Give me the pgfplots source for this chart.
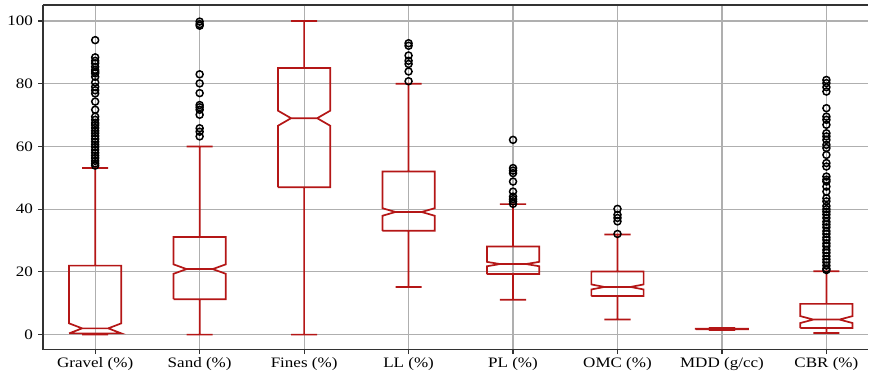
\documentclass[border=0pt]{standalone}
\usepackage{fontspec}
\setmainfont{Liberation Serif}
\usepackage{graphicx}
\usepackage{pgfplots}
\pgfplotsset{compat=1.18}
\definecolor{boxred}{RGB}{180,22,22}
\definecolor{gridgray}{RGB}{175,175,175}
\definecolor{framegray}{RGB}{50,50,50}
\newcommand\sx[1]{\scalebox{1.18}[1]{#1}}
\begin{document}
\begin{tikzpicture}
\begin{axis}[
  scale only axis, width=826bp, height=345bp,
  xmin=-0.5, xmax=7.4, ymin=-4.8, ymax=105.1,
  axis x line*=box, axis y line*=left,
  axis line style={-, framegray, line width=1.6bp},
  xtick={0,1,2,3,4,5,6,7},
  xticklabels={\sx{Gravel (\%)},\sx{Sand (\%)},\sx{Fines (\%)},\sx{LL (\%)},\sx{PL (\%)},\sx{OMC (\%)},\sx{MDD (g/cc)},\sx{CBR (\%)}},
  ytick={0,20,40,60,80,100},
  yticklabels={\sx{0},\sx{20},\sx{40},\sx{60},\sx{80},\sx{100}},
  tick align=outside, tick pos=left,
  major tick length=4.5bp,
  tick style={framegray, line width=1.2bp},
  grid=major, major grid style={gridgray, line width=1.1bp},
  font=\fontsize{14.5}{16}\selectfont,
  yticklabel style={xshift=-2bp},
  unbounded coords=jump,
  every axis plot/.append style={line join=miter},
]
% ---- boxes, medians, whiskers, caps ----
\addplot[boxred, line width=1.7bp] coordinates {
(-0.25,0.4) (0.25,0.4) (0.25,0.4) (0.125,2.0) (0.25,3.6) (0.25,22.0) (-0.25,22.0) (-0.25,3.6) (-0.125,2.0) (-0.25,0.4) (-0.25,0.4)
(0,nan) (-0.125,2.0) (0.125,2.0)
(0,nan) (0,0.4) (0,0)
(0,nan) (0,22.0) (0,53.1)
(0,nan) (-0.125,0) (0.125,0)
(0,nan) (-0.125,53.1) (0.125,53.1)
};
\addplot[boxred, line width=1.7bp] coordinates {
(0.75,11.3) (1.25,11.3) (1.25,19.4) (1.125,20.9) (1.25,22.4) (1.25,31.1) (0.75,31.1) (0.75,22.4) (0.875,20.9) (0.75,19.4) (0.75,11.3)
(1,nan) (0.875,20.9) (1.125,20.9)
(1,nan) (1,11.3) (1,0)
(1,nan) (1,31.1) (1,60)
(1,nan) (0.875,0) (1.125,0)
(1,nan) (0.875,60) (1.125,60)
};
\addplot[boxred, line width=1.7bp] coordinates {
(1.75,47.0) (2.25,47.0) (2.25,66.6) (2.125,69.0) (2.25,71.4) (2.25,85.0) (1.75,85.0) (1.75,71.4) (1.875,69.0) (1.75,66.6) (1.75,47.0)
(2,nan) (1.875,69.0) (2.125,69.0)
(2,nan) (2,47.0) (2,0)
(2,nan) (2,85.0) (2,100)
(2,nan) (1.875,0) (2.125,0)
(2,nan) (1.875,100) (2.125,100)
};
\addplot[boxred, line width=1.7bp] coordinates {
(2.75,33.1) (3.25,33.1) (3.25,37.9) (3.125,39.1) (3.25,40.3) (3.25,52.0) (2.75,52.0) (2.75,40.3) (2.875,39.1) (2.75,37.9) (2.75,33.1)
(3,nan) (2.875,39.1) (3.125,39.1)
(3,nan) (3,33.1) (3,15.2)
(3,nan) (3,52.0) (3,80.0)
(3,nan) (2.875,15.2) (3.125,15.2)
(3,nan) (2.875,80.0) (3.125,80.0)
};
\addplot[boxred, line width=1.7bp] coordinates {
(3.75,19.3) (4.25,19.3) (4.25,21.8) (4.125,22.5) (4.25,23.2) (4.25,28.1) (3.75,28.1) (3.75,23.2) (3.875,22.5) (3.75,21.8) (3.75,19.3)
(4,nan) (3.875,22.5) (4.125,22.5)
(4,nan) (4,19.3) (4,11.1)
(4,nan) (4,28.1) (4,41.6)
(4,nan) (3.875,11.1) (4.125,11.1)
(4,nan) (3.875,41.6) (4.125,41.6)
};
\addplot[boxred, line width=1.7bp] coordinates {
(4.75,12.3) (5.25,12.3) (5.25,14.4) (5.125,15.2) (5.25,16.0) (5.25,20.1) (4.75,20.1) (4.75,16.0) (4.875,15.2) (4.75,14.4) (4.75,12.3)
(5,nan) (4.875,15.2) (5.125,15.2)
(5,nan) (5,12.3) (5,4.8)
(5,nan) (5,20.1) (5,31.9)
(5,nan) (4.875,4.8) (5.125,4.8)
(5,nan) (4.875,31.9) (5.125,31.9)
};
\addplot[boxred, line width=1.7bp] coordinates {
(5.75,1.7) (6.25,1.7) (6.25,1.75) (6.125,1.8) (6.25,1.85) (6.25,1.9) (5.75,1.9) (5.75,1.85) (5.875,1.8) (5.75,1.75) (5.75,1.7)
(6,nan) (5.875,1.8) (6.125,1.8)
(6,nan) (6,1.7) (6,1.5)
(6,nan) (6,1.9) (6,2.1)
(6,nan) (5.875,1.5) (6.125,1.5)
(6,nan) (5.875,2.1) (6.125,2.1)
};
\addplot[boxred, line width=1.7bp] coordinates {
(6.75,2.1) (7.25,2.1) (7.25,3.7) (7.125,4.8) (7.25,5.9) (7.25,9.8) (6.75,9.8) (6.75,5.9) (6.875,4.8) (6.75,3.7) (6.75,2.1)
(7,nan) (6.875,4.8) (7.125,4.8)
(7,nan) (7,2.1) (7,0.5)
(7,nan) (7,9.8) (7,20.2)
(7,nan) (6.875,0.5) (7.125,0.5)
(7,nan) (6.875,20.2) (7.125,20.2)
};
% ---- outliers ----
\addplot[only marks, mark=o, mark size=3.5bp, mark options={black, line width=1.5bp}] coordinates {
(0,93.9) (0,88.4) (0,87.3) (0,86.5) (0,85.4) (0,84.4) (0,83.8) (0,83.3) (0,82.2) (0,80.4) (0,79.0) (0,77.9) (0,76.9) (0,74.3) (0,71.7) (0,69.5) (0,68.5) (0,67.5) (0,66.8) (0,65.9) (0,65.0) (0,64.2) (0,63.3) (0,62.4) (0,61.5) (0,60.6) (0,59.8) (0,58.9) (0,58.0) (0,57.1) (0,56.3) (0,55.4) (0,54.6) (0,53.9)
(1,99.8) (1,99.0) (1,98.5) (1,83.0) (1,80.1) (1,77.0) (1,73.2) (1,72.5) (1,71.7) (1,70.1) (1,65.8) (1,64.7) (1,63.2)
(3,92.9) (3,92.1) (3,89.0) (3,87.3) (3,86.3) (3,83.9) (3,80.8)
(4,62.1) (4,53.1) (4,52.3) (4,51.5) (4,48.8) (4,45.6) (4,44.0) (4,43.2) (4,42.5) (4,41.7)
(5,40.1) (5,38.2) (5,37.2) (5,36.1) (5,32.1)
(7,81.2) (7,80.2) (7,78.9) (7,77.5) (7,72.2) (7,69.5) (7,68.5) (7,66.9) (7,64.2) (7,63.2) (7,62.1) (7,60.5) (7,59.5) (7,57.3) (7,54.7) (7,53.6) (7,50.4) (7,49.4) (7,48.8) (7,47.2) (7,45.6) (7,43.5) (7,42.5) (7,41.0) (7,40.0) (7,39.2) (7,38.3) (7,37.2) (7,36.0) (7,35.1) (7,34.2) (7,33.0) (7,32.1) (7,31.0) (7,30.2) (7,29.1) (7,28.2) (7,27.0) (7,26.1) (7,25.0) (7,24.0) (7,23.1) (7,22.0) (7,21.0) (7,20.6)
};
\end{axis}
\path ([shift={(-43bp,-26bp)}]current axis.south west) rectangle ([shift={(0bp,5bp)}]current axis.north east);
\end{tikzpicture}
\end{document}
